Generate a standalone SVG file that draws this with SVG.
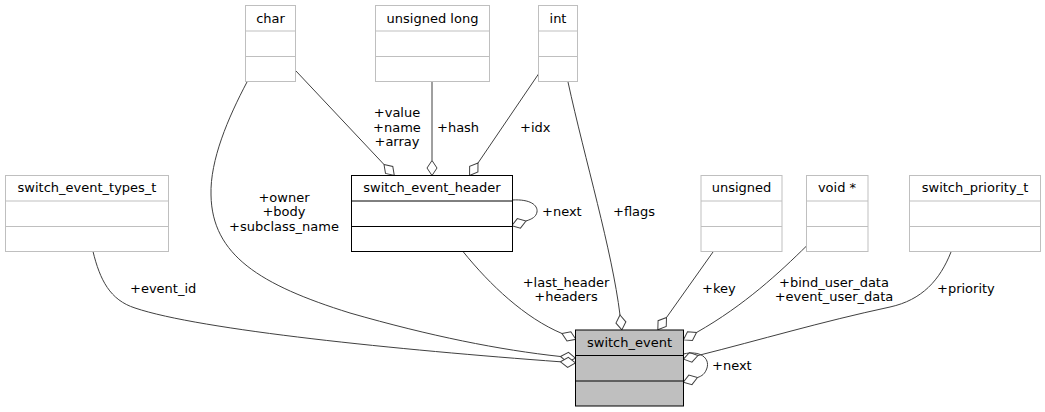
<svg xmlns="http://www.w3.org/2000/svg" width="1045" height="412" viewBox="0 0 1045 412">
<style>
text{font-family:"DejaVu Sans","Liberation Sans",sans-serif;font-size:13px;fill:#000}
.c{text-anchor:middle}
.n rect{fill:#fff;stroke:#bfbfbf;stroke-width:1}
.n line{stroke:#bfbfbf;stroke-width:1}
.d rect{fill:#fff;stroke:#000}
.d line{stroke:#000}
.m rect{fill:#bfbfbf;stroke:#000}
.m line{stroke:#000}
.e path{fill:none;stroke:#404040;stroke-width:1;marker-end:url(#dia)}
</style>
<defs>
<marker id="dia" markerUnits="userSpaceOnUse" orient="auto" refX="0" refY="0" markerWidth="30" markerHeight="30" viewBox="-15 -15 30 30" overflow="visible">
<path d="M0,0 L7.5,-5 L15,0 L7.5,5 Z" fill="#fff" stroke="#404040" stroke-width="1"/>
</marker>
</defs>
<rect width="1045" height="412" fill="#fff"/>
<g id="connectors" class="e">
<path d="M296,71 L384,164.5"/>
<path d="M432,82 L432,160.5"/>
<path d="M538.5,74 L478,163"/>
<path d="M512.5,200 C530,199 538,205 537,212 C536,217 532,219 526,221"/>
<path d="M247,82 C228,118 210,160 211,195 C212,255 260,285 350,313 C430,336 500,350 560.5,356.5"/>
<path d="M93,251.5 C100,280 110,300 135,308 C200,330 400,350 560.5,361.8"/>
<path d="M463,251.5 C490,285 525,318 562,333.5"/>
<path d="M568,82 C585,160 612,250 620,315"/>
<path d="M713,252 L666.5,317.5"/>
<path d="M806.5,246 C780,272 745,305 696.5,332.5"/>
<path d="M951,252 C940,280 922,300 890,307 C820,322 760,340 698,355.5"/>
<path d="M683.5,354 C700,350 710,358 707,368 C705,374 702,376 697.5,377.5"/>
</g>
<g id="char" class="n"><rect x="245.5" y="5.5" width="50" height="76"/><line x1="245.5" y1="31" x2="295.5" y2="31"/><line x1="245.5" y1="56.5" x2="295.5" y2="56.5"/><text class="c" x="270.5" y="22.5">char</text></g>
<g id="unsigned_long" class="n"><rect x="375.5" y="5.5" width="114" height="76"/><line x1="375.5" y1="31" x2="489.5" y2="31"/><line x1="375.5" y1="56.5" x2="489.5" y2="56.5"/><text class="c" x="432.5" y="22.5">unsigned long</text></g>
<g id="int" class="n"><rect x="538.5" y="5.5" width="39" height="76"/><line x1="538.5" y1="31" x2="577.5" y2="31"/><line x1="538.5" y1="56.5" x2="577.5" y2="56.5"/><text class="c" x="558" y="22.5">int</text></g>
<g id="switch_event_types_t" class="n"><rect x="5.5" y="175.5" width="163" height="76"/><line x1="5.5" y1="201" x2="168.5" y2="201"/><line x1="5.5" y1="226.5" x2="168.5" y2="226.5"/><text class="c" x="87" y="192">switch_event_types_t</text></g>
<g id="switch_event_header" class="d"><rect x="351.5" y="175.5" width="161" height="76"/><line x1="351.5" y1="201" x2="512.5" y2="201"/><line x1="351.5" y1="226.5" x2="512.5" y2="226.5"/><text class="c" x="432" y="192">switch_event_header</text></g>
<g id="unsigned" class="n"><rect x="701" y="175.5" width="81" height="76"/><line x1="701" y1="201" x2="782" y2="201"/><line x1="701" y1="226.5" x2="782" y2="226.5"/><text class="c" x="741.5" y="192">unsigned</text></g>
<g id="void_ptr" class="n"><rect x="806.5" y="175.5" width="61.5" height="76"/><line x1="806.5" y1="201" x2="868" y2="201"/><line x1="806.5" y1="226.5" x2="868" y2="226.5"/><text class="c" x="837" y="192">void *</text></g>
<g id="switch_priority_t" class="n"><rect x="909.5" y="175.5" width="131" height="76"/><line x1="909.5" y1="201" x2="1040.5" y2="201"/><line x1="909.5" y1="226.5" x2="1040.5" y2="226.5"/><text class="c" x="975" y="192">switch_priority_t</text></g>
<g id="switch_event" class="m"><rect x="575.5" y="330" width="108" height="76"/><line x1="575.5" y1="355.5" x2="683.5" y2="355.5"/><line x1="575.5" y1="381" x2="683.5" y2="381"/><text class="c" x="629.5" y="346.5">switch_event</text></g>
<g id="labels">
<text class="c" x="397" y="117">+value</text>
<text class="c" x="397" y="131.5">+name</text>
<text class="c" x="397" y="146">+array</text>
<text x="437" y="131.5">+hash</text>
<text x="520" y="131.5">+idx</text>
<text x="542" y="216">+next</text>
<text class="c" x="284" y="201.5">+owner</text>
<text class="c" x="284" y="216">+body</text>
<text class="c" x="284" y="230.5">+subclass_name</text>
<text x="613" y="216">+flags</text>
<text x="130" y="293">+event_id</text>
<text class="c" x="566" y="287">+last_header</text>
<text class="c" x="566" y="301">+headers</text>
<text x="702" y="293">+key</text>
<text class="c" x="834" y="287">+bind_user_data</text>
<text class="c" x="834" y="301">+event_user_data</text>
<text x="937" y="293">+priority</text>
<text x="712" y="370">+next</text>
</g>
</svg>
